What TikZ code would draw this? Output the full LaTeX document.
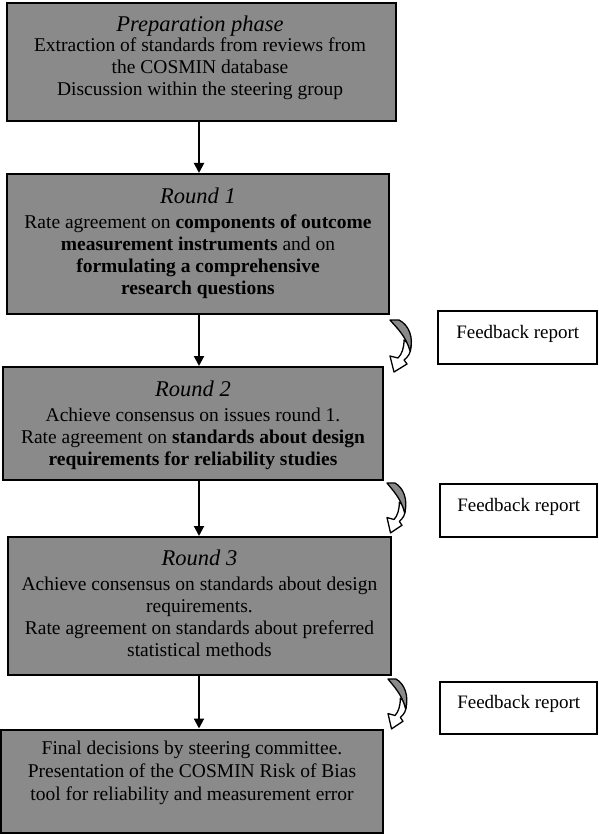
\documentclass[tikz,border=0pt]{standalone}
\usepackage{fontspec}
\setmainfont{Liberation Serif}
\usetikzlibrary{arrows.meta}
\definecolor{boxgray}{RGB}{138,138,138}
\newcommand\phasehead[1]{{\fontsize{22.5}{27}\selectfont\itshape\rule{0pt}{16pt}#1}}
\begin{document}
\begin{tikzpicture}[x=1pt,y=-1pt,
 mainbox/.style={draw=black,line width=2pt,fill=boxgray,rectangle,inner sep=0pt},
 boxtext/.style={anchor=north,inner sep=0pt,align=center,font=\fontsize{19.5}{22}\selectfont},
 fbbox/.style={draw=black,line width=1.5pt,fill=white,rectangle,inner sep=0pt,text height=13pt,text depth=12pt,font=\fontsize{19}{22}\selectfont},
 flow/.style={line width=2pt,-{Triangle[length=10pt,width=10pt]}},
 fbarrow/.pic={
   \draw[line width=1.3pt,fill=white,line join=round]
     (21,26) .. controls (21,33) and (18,37) .. (14,40) -- (17,44) -- (4,52) -- (0,36) -- (8,38)
     .. controls (12,34) and (14,28) .. (14,20) -- cycle;
   \draw[line width=1.3pt,fill=boxgray,line join=round]
     (0,0) -- (9,0) .. controls (19,5) and (24,18) .. (20,31) .. controls (16,16) and (6,7) .. (0,0) -- cycle;
 }]
\useasboundingbox (0,0) rectangle (598,834);

% main boxes
\node[mainbox,minimum width=389pt,minimum height=118pt] (b1) at (201.5,62) {};
\node[mainbox,minimum width=382pt,minimum height=140pt] (b2) at (198,244) {};
\node[mainbox,minimum width=380pt,minimum height=113pt] (b3) at (193,423.5) {};
\node[mainbox,minimum width=383pt,minimum height=138pt] (b4) at (199.5,606) {};
\node[mainbox,minimum width=382pt,minimum height=103pt] (b5) at (192,781) {};

% texts
\node[boxtext] (t1) at (200,15) {\phasehead{Preparation phase}\\[-2pt]
Extraction of standards from reviews from\\
the COSMIN database\\
Discussion within the steering group};
\node[boxtext] (t2) at (198,187) {\phasehead{Round 1}\\[3pt]
Rate agreement on \textbf{components of outcome}\\
\textbf{measurement instruments} and on\\
\textbf{formulating a comprehensive}\\
\textbf{research questions}};
\node[boxtext] (t3) at (193,380) {\phasehead{Round 2}\\[3pt]
Achieve consensus on issues round 1.\\
Rate agreement on \textbf{standards about design}\\
\textbf{requirements for reliability studies}};
\node[boxtext] (t4) at (199.5,549) {\phasehead{Round 3}\\[3pt]
Achieve consensus on standards about design\\
requirements.\\
Rate agreement on standards about preferred\\
statistical methods};
\node[boxtext] (t5) at (192,740) {\rule{0pt}{14pt}Final decisions by steering committee.\\[1pt]
Presentation of the COSMIN Risk of Bias\\[1pt]
tool for reliability and measurement error};

% feedback boxes
\node[fbbox,minimum width=159pt,minimum height=53pt] (f1) at (517.7,337.5) {Feedback report};
\node[fbbox,minimum width=157pt,minimum height=53pt] (f2) at (518.7,510.5) {Feedback report};
\node[fbbox,minimum width=157pt,minimum height=52pt] (f3) at (518.7,708) {Feedback report};

% vertical connectors
\coordinate (ax) at (199,0);
\draw[flow] (b1.south -| ax) -- (b2.north -| ax);
\draw[flow] (b2.south -| ax) -- (b3.north -| ax);
\draw[flow] (b3.south -| ax) -- (b4.north -| ax);
\draw[flow] (b4.south -| ax) -- (b5.north -| ax);

% curved feedback arrows
\pic at (390,320) {fbarrow};
\pic[xscale=0.88,yscale=0.96] at (387,483) {fbarrow};
\pic[xscale=0.88,yscale=0.96] at (388,679) {fbarrow};
\end{tikzpicture}
\end{document}
